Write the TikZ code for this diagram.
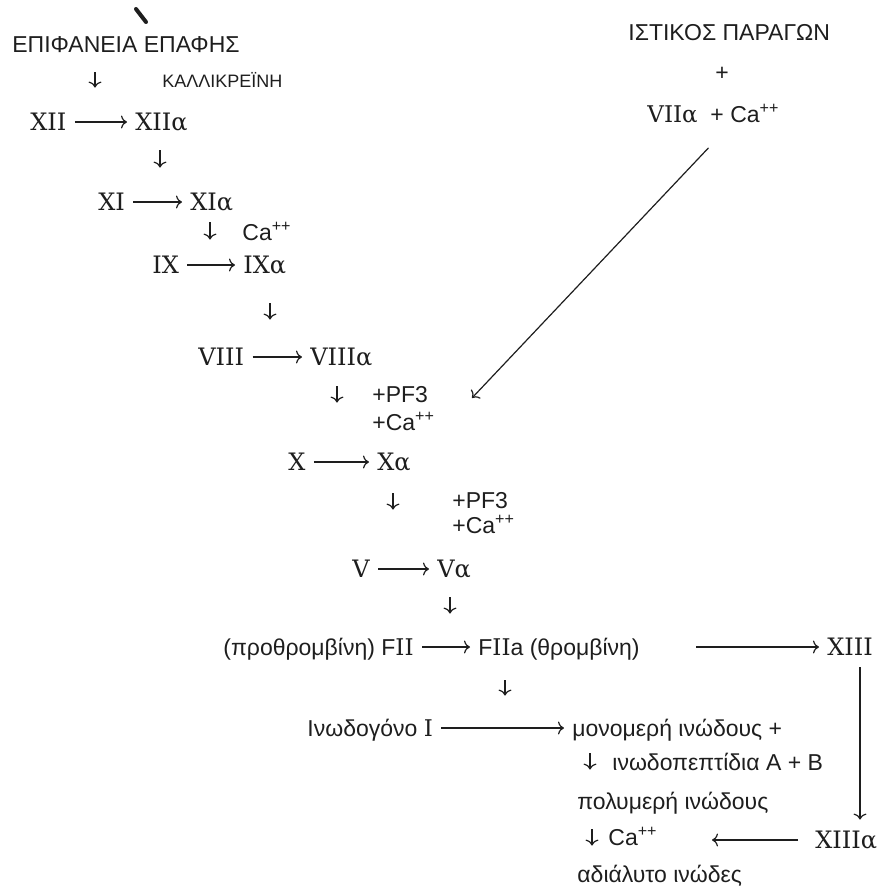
\documentclass[tikz,border=0pt]{standalone}
\usepackage{fontspec}
\setmainfont{Liberation Sans}
\newfontfamily\romfont{DejaVu Serif}
\usepackage{xcolor}
\usetikzlibrary{arrows.meta}
\definecolor{ink}{HTML}{1E1E1E}
\newcommand{\rn}[1]{{\romfont #1}}
\newcommand{\caion}{Ca\textsuperscript{++}}

\begin{document}
\begin{tikzpicture}[x=0.5pt, y=-0.5pt,
    every node/.style={text=ink, inner sep=2pt, text height=10pt,
      text depth=2pt, anchor=base west},
    word/.style={font=\fontsize{11.5}{13}\selectfont},
    num/.style={font=\fontsize{12}{14}\romfont},
    small/.style={font=\fontsize{9}{11}\selectfont},
    ar/.style={-{To[length=3pt, width=6.5pt]}, draw=ink, line width=0.6pt,
      shorten <=2pt, shorten >=2pt},
    dn/.style 2 args={-{To[length=3pt, width=6.5pt]}, draw=ink,
      line width=0.6pt, shorten <=#1, shorten >=#2}]
    \useasboundingbox (0,0) rectangle (877,891);

    % contact pathway
    \node[word] (epif) at (8,52) {ΕΠΙΦΑΝΕΙΑ ΕΠΑΦΗΣ};
    \node[small] (kall) at (158,87) {ΚΑΛΛΙΚΡΕΪΝΗ};
    \node[num] (xii) at (26,130) {XII};
    \node[num] (xiia) at (131,130) {XIIα};
    \node[num] (xi) at (94,210) {XI};
    \node[num] (xia) at (186,210) {XIα};
    \node[word] (ca1) at (238,240) {\caion};
    \node[num] (ix) at (148,273) {IX};
    \node[num] (ixa) at (239,273) {IXα};
    \node[num] (viii) at (194,365) {VIII};
    \node[num] (viiia) at (306,365) {VIIIα};
    \node[word] (pf1) at (368,402) {+PF3};
    \node[word] (pc1) at (368,430) {+\caion};
    \node[num] (x) at (284,470) {X};
    \node[num] (xa) at (373,470) {Xα};
    \node[word] (pf2) at (448,508) {+PF3};
    \node[word] (pc2) at (448,533) {+\caion};
    \node[num] (v) at (348,577) {V};
    \node[num] (va) at (433,577) {Vα};

    % tissue factor
    \node[word] (isti) at (624,40) {ΙΣΤΙΚΟΣ ΠΑΡΑΓΩΝ};
    \node[word, anchor=base] (plus) at (722,80) {+};
    \node[word] (viica) at (643,122) {\rn{VIIα}\ \ + \caion};

    % thrombin and fibrin
    \node[word] (fii) at (219,655) {(προθρομβίνη) F\rn{II}};
    \node[word] (fiia) at (474,655) {F\rn{II}a (θρομβίνη)};
    \node[num] (xiii) at (823,655) {XIII};
    \node[word] (inod) at (303,736) {Ινωδογόνο \rn{I}};
    \node[word] (mono) at (568,736) {μονομερή ινώδους +};
    \node[word] (inpep) at (608,770) {ινωδοπεπτίδια Α + Β};
    \node[word] (polym) at (573,809) {πολυμερή ινώδους};
    \node[word] (ca2) at (604,845) {\caion};
    \node[num] (xiiia) at (811,848) {XIIIα};
    \node[word] (adial) at (573,882) {αδιάλυτο ινώδες};

    \draw[ar] (xii.east) -- (xiia.west);
    \draw[ar] (xi.east) -- (xia.west);
    \draw[ar] (ix.east) -- (ixa.west);
    \draw[ar] (viii.east) -- (viiia.west);
    \draw[ar] (x.east) -- (xa.west);
    \draw[ar] (v.east) -- (va.west);
    \draw[ar] (fii.east) -- (fiia.west);
    \draw[ar, shorten <=26pt] (fiia.east) -- (xiii.west);
    \draw[ar] (inod.east) -- (mono.west);
    \draw[ar, shorten <=6.5pt, shorten >=25pt] (xiiia.west)
      -- (ca2.east |- xiiia.west);
    \draw[ar] (xiii.south -| 860,0) -- (xiiia.north -| 860,0);
    \coordinate (dtip) at (472,398);
    \draw[ar, shorten <=12pt, shorten >=0pt] (viica.south -| 725,0) -- (dtip);

    \draw[dn={6pt}{9pt}] (epif.south -| 95,0) -- (xii.north -| 95,0);
    \draw[dn={6pt}{9pt}] (xiia.south -| 160,0) -- (xi.north -| 160,0);
    \draw[dn={2pt}{4.5pt}] (xia.south -| 210,0) -- (ix.north -| 210,0);
    \draw[dn={11pt}{10.5pt}] (ixa.south -| 270,0) -- (viii.north -| 270,0);
    \draw[dn={6.5pt}{21.5pt}] (viiia.south -| 337,0) -- (x.north -| 337,0);
    \draw[dn={7.5pt}{21.5pt}] (xa.south -| 393,0) -- (v.north -| 393,0);
    \draw[dn={6pt}{8.5pt}] (va.south -| 450,0) -- (fii.north -| 450,0);
    \draw[dn={8.5pt}{8pt}] (fiia.south -| 505,0) -- (inod.north -| 505,0);
    \draw[dn={4.5pt}{7.5pt}] (mono.south -| 590,0) -- (polym.north -| 590,0);
    \draw[dn={6pt}{6pt}] (polym.south -| 592,0) -- (adial.north -| 592,0);

    \draw[ink, line width=2pt, line cap=round] (136,9) -- (146,22);
  \end{tikzpicture}
\end{document}
